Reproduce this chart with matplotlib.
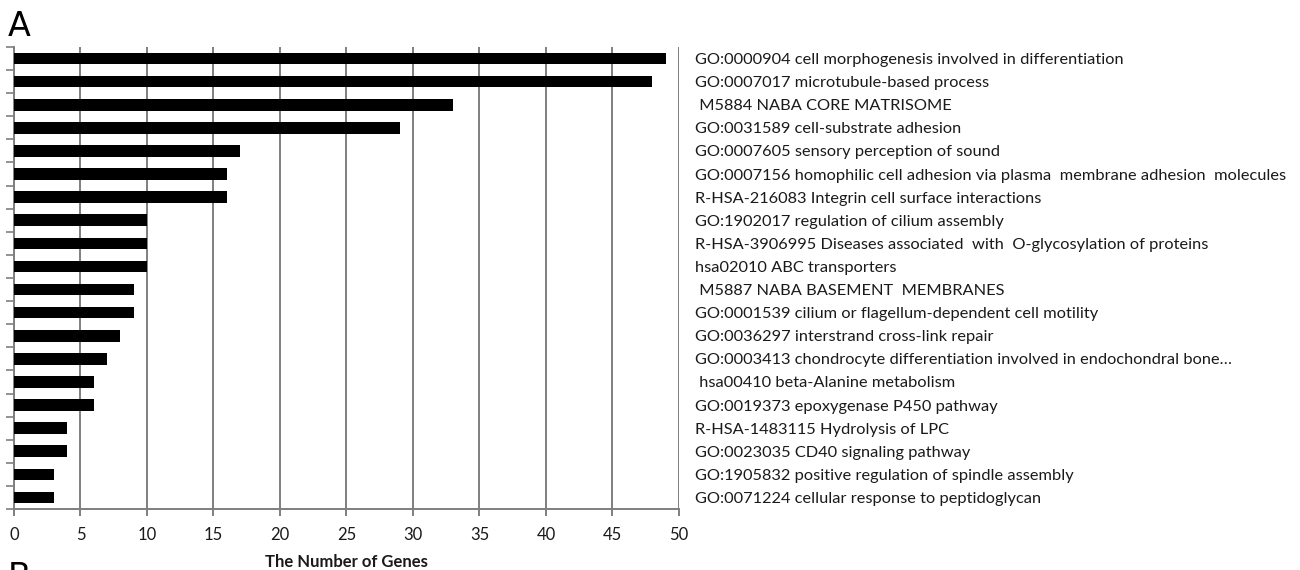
import numpy as np
import matplotlib
matplotlib.use("Agg")
import matplotlib.pyplot as plt
from matplotlib.ticker import FixedLocator

plt.rcParams['font.family'] = ['Lato', 'DejaVu Sans']

terms = [
    "GO:0000904 cell morphogenesis involved in differentiation",
    "GO:0007017 microtubule-based process",
    " M5884 NABA CORE MATRISOME",
    "GO:0031589 cell-substrate adhesion",
    "GO:0007605 sensory perception of sound",
    "GO:0007156 homophilic cell adhesion via plasma  membrane adhesion  molecules",
    "R-HSA-216083 Integrin cell surface interactions",
    "GO:1902017 regulation of cilium assembly",
    "R-HSA-3906995 Diseases associated  with  O-glycosylation of proteins",
    "hsa02010 ABC transporters",
    " M5887 NABA BASEMENT  MEMBRANES",
    "GO:0001539 cilium or flagellum-dependent cell motility",
    "GO:0036297 interstrand cross-link repair",
    "GO:0003413 chondrocyte differentiation involved in endochondral bone\u2026",
    " hsa00410 beta-Alanine metabolism",
    "GO:0019373 epoxygenase P450 pathway",
    "R-HSA-1483115 Hydrolysis of LPC",
    "GO:0023035 CD40 signaling pathway",
    "GO:1905832 positive regulation of spindle assembly",
    "GO:0071224 cellular response to peptidoglycan",
]
gene_counts = [49, 48, 33, 29, 17, 16, 16, 10, 10, 10, 9, 9, 8, 7, 6, 6, 4, 4, 3, 3]
x_ticks = [0, 5, 10, 15, 20, 25, 30, 35, 40, 45, 50]

fig = plt.figure(figsize=(13, 5.7), dpi=100)
ax = fig.add_axes([14/1300, 61/570, 665/1300, 462/570])

pos = np.arange(len(terms))
ax.barh(pos, gene_counts, height=0.5, color='black', zorder=3)

ax.set_xlim(0, 50)
ax.set_ylim(19.5, -0.5)
ax.set_xticks(x_ticks)
ax.xaxis.grid(True, color='#7f7f7f', lw=1.4, zorder=0)
ax.tick_params(axis='x', direction='out', length=5, width=1.4, color='#7f7f7f',
               labelsize=12, pad=8, labelcolor='#1a1a1a')

ax.set_yticks(pos)
ax.set_yticklabels(terms, fontsize=11.75, color='#1a1a1a')
ax.tick_params(axis='y', which='major', left=False, right=False,
               labelleft=False, labelright=True, pad=8)
ax.yaxis.set_minor_locator(FixedLocator(np.arange(-0.5, 20, 1.0)))
ax.tick_params(axis='y', which='minor', left=True, right=False, direction='out',
               length=6, width=1.2, color='#7f7f7f')
for lab in ax.get_yticklabels():
    lab.set_horizontalalignment('left')

for s in ['top', 'right']:
    ax.spines[s].set_visible(False)
for s in ['left', 'bottom']:
    ax.spines[s].set_color('#7f7f7f')
    ax.spines[s].set_linewidth(1.4)

ax.set_xlabel("The Number of Genes", fontsize=12, fontweight='bold', labelpad=8, color='#1a1a1a')

fig.text(8/1300, 1 - 10/570, "A", fontsize=24, va='top', ha='left', family='DejaVu Sans')
fig.text(8/1300, 1 - 561/570, "B", fontsize=24, va='top', ha='left', family='DejaVu Sans')

fig.savefig("out.png", dpi=100)
